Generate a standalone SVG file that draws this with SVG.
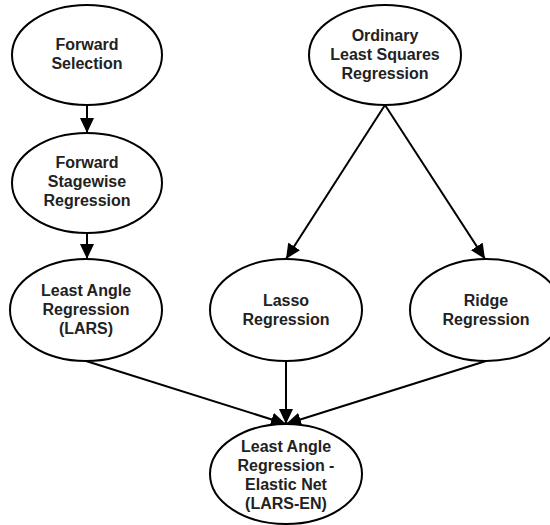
<svg xmlns="http://www.w3.org/2000/svg" width="550" height="525" viewBox="0 0 550 525">
  <style>
    .node ellipse { fill: #ffffff; stroke: #000000; stroke-width: 2; }
    .node text { font-family: "Liberation Sans", Arial, sans-serif; font-weight: bold; font-size: 16px; fill: #222222; text-anchor: middle; }
    .edge { stroke: #000000; stroke-width: 2; fill: none; marker-end: url(#arrow); }
  </style>
  <defs>
    <marker id="arrow" markerUnits="userSpaceOnUse" markerWidth="16" markerHeight="14" refX="15" refY="7" orient="auto">
      <path d="M0,0 L15,7 L0,14 z" fill="#000000"/>
    </marker>
  </defs>
  <rect width="550" height="525" fill="#ffffff"/>
  <g id="connectors">
    <line class="edge" x1="87" y1="105" x2="87" y2="133"/>
    <line class="edge" x1="87" y1="233" x2="87" y2="259"/>
    <line class="edge" x1="385" y1="105" x2="286" y2="259"/>
    <line class="edge" x1="385" y1="105" x2="485" y2="259"/>
    <line class="edge" x1="86" y1="361" x2="286" y2="424"/>
    <line class="edge" x1="286" y1="361" x2="286" y2="424"/>
    <line class="edge" x1="486" y1="361" x2="286" y2="424"/>
  </g>
  <g id="forward-selection" class="node">
    <ellipse cx="87" cy="55" rx="75" ry="50"/>
    <text x="87" y="50">Forward</text>
    <text x="87" y="69">Selection</text>
  </g>
  <g id="forward-stagewise" class="node">
    <ellipse cx="87" cy="183" rx="75" ry="50"/>
    <text x="87" y="168">Forward</text>
    <text x="87" y="187">Stagewise</text>
    <text x="87" y="206">Regression</text>
  </g>
  <g id="ols" class="node">
    <ellipse cx="385" cy="55" rx="76" ry="50"/>
    <text x="385" y="41">Ordinary</text>
    <text x="385" y="60">Least Squares</text>
    <text x="385" y="79">Regression</text>
  </g>
  <g id="lars" class="node">
    <ellipse cx="86" cy="310" rx="76" ry="51"/>
    <text x="86" y="296">Least Angle</text>
    <text x="86" y="315">Regression</text>
    <text x="86" y="334">(LARS)</text>
  </g>
  <g id="lasso" class="node">
    <ellipse cx="286" cy="310" rx="76" ry="51"/>
    <text x="286" y="306">Lasso</text>
    <text x="286" y="325">Regression</text>
  </g>
  <g id="ridge" class="node">
    <ellipse cx="486" cy="310" rx="76" ry="51"/>
    <text x="486" y="306">Ridge</text>
    <text x="486" y="325">Regression</text>
  </g>
  <g id="lars-en" class="node">
    <ellipse cx="286" cy="474" rx="76" ry="50"/>
    <text x="286" y="452">Least Angle</text>
    <text x="286" y="471">Regression -</text>
    <text x="286" y="490">Elastic Net</text>
    <text x="286" y="509">(LARS-EN)</text>
  </g>
</svg>
